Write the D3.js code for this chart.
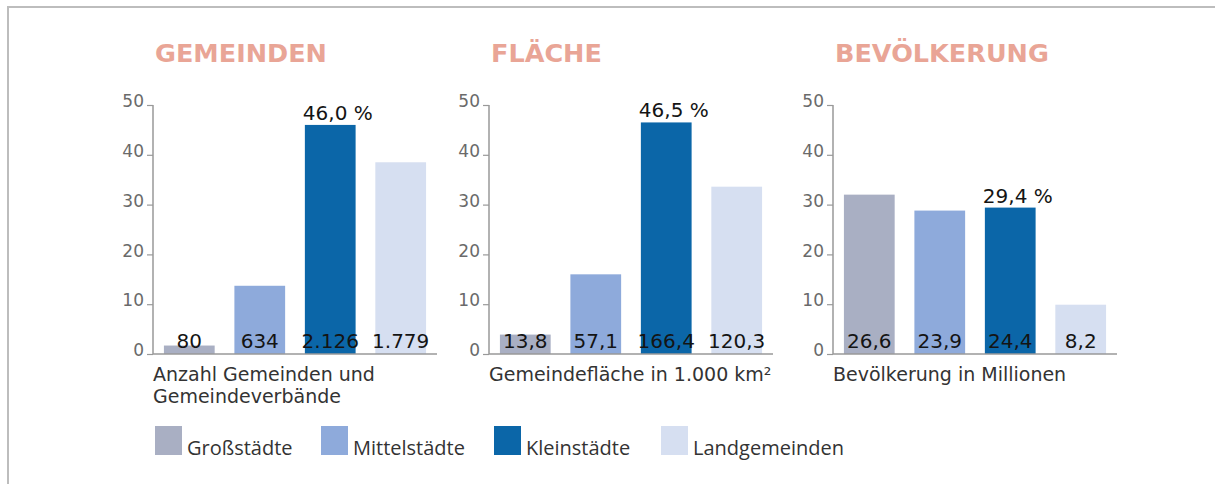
<!DOCTYPE html>
<html>
<head>
<meta charset="utf-8">
<script src="https://cdn.jsdelivr.net/npm/d3@7"></script>
<style>
  body { margin: 0; background: #fff; }
  svg { display: block; }
</style>
</head>
<body>
<div id="chart"></div>
<script>
var w = 1215;
var h = 484;

// categories + colours
var categories = ["Großstädte", "Mittelstädte", "Kleinstädte", "Landgemeinden"];
var colors = ["#a9afc3", "#8eaadb", "#0b66a8", "#d6dff1"];

// panel texts
var titles = ["GEMEINDEN", "FLÄCHE", "BEVÖLKERUNG"];
var captions = [["Anzahl Gemeinden und", "Gemeindeverbände"], ["Gemeindefläche in 1.000 km²"], ["Bevölkerung in Millionen"]];

// bar heights = share in percent
var shareGemeinden = [1.7, 13.7, 46.0, 38.5];
var shareFlaeche = [3.9, 16.0, 46.5, 33.6];
var shareBevoelkerung = [32.0, 28.8, 29.4, 9.9];

// labels written in the bars
var labelGemeinden = ["80", "634", "2.126", "1.779"];
var labelFlaeche = ["13,8", "57,1", "166,4", "120,3"];
var labelBevoelkerung = ["26,6", "23,9", "24,4", "8,2"];

// percent label above the highlighted bar
var highlight = ["46,0 %", "46,5 %", "29,4 %"];
var highlightIndex = 2;

var yTicks = [0, 10, 20, 30, 40, 50];

var panels = [
  { share: shareGemeinden, labels: labelGemeinden },
  { share: shareFlaeche, labels: labelFlaeche },
  { share: shareBevoelkerung, labels: labelBevoelkerung }
];

var axisX = [153, 489, 833];
var axisW = 284;

var svg = d3.select("#chart").append("svg")
  .attr("width", w)
  .attr("height", h);

// frame
svg.append("path")
  .attr("d", "M8," + h + " L8,7 L" + w + ",7")
  .attr("fill", "none")
  .attr("stroke", "#bdbdbd")
  .attr("stroke-width", 2);

var yScale = d3.scaleLinear().domain([0, 50]).range([354, 105]);

var numFont = "'DejaVu Sans', sans-serif";

panels.forEach(function(p, k) {
  var x0 = axisX[k];
  var xScale = d3.scaleBand()
    .domain(categories)
    .range([x0, x0 + axisW])
    .paddingInner(0.28)
    .paddingOuter(0.155);

  var g = svg.append("g");

  // title
  g.append("text")
    .text(titles[k])
    .attr("x", x0 + 2)
    .attr("y", 62)
    .attr("font-family", numFont)
    .attr("font-weight", "bold")
    .attr("font-size", "25.5px")
    .attr("fill", "#e9a596");

  // bars
  g.selectAll("rect.bar")
    .data(p.share)
    .enter()
    .append("rect")
    .attr("class", "bar")
    .attr("x", function(d, i) { return xScale(categories[i]); })
    .attr("y", function(d) { return yScale(d); })
    .attr("width", xScale.bandwidth())
    .attr("height", function(d) { return yScale(0) - yScale(d); })
    .style("fill", function(d, i) { return colors[i]; });

  // y axis
  var yAxis = d3.axisLeft(yScale)
    .tickValues(yTicks)
    .tickSize(6)
    .tickPadding(3);
  var ax = g.append("g")
    .attr("transform", "translate(" + x0 + ",0)")
    .call(yAxis);
  ax.select(".domain").remove();
  ax.selectAll(".tick line").attr("stroke", "#999").attr("stroke-width", 1.2);
  ax.selectAll(".tick text")
    .attr("font-family", numFont)
    .attr("font-size", "17px")
    .attr("fill", "#6a6a6a")
    .attr("dy", "0.1em");

  // axis lines (vertical + baseline)
  g.append("path")
    .attr("d", "M" + x0 + "," + yScale(50) + " L" + x0 + "," + yScale(0) + " L" + (x0 + axisW) + "," + yScale(0))
    .attr("fill", "none")
    .attr("stroke", "#999")
    .attr("stroke-width", 1.5);

  // numbers in bars
  g.selectAll("text.val")
    .data(p.labels)
    .enter()
    .append("text")
    .attr("class", "val")
    .text(function(d) { return d; })
    .attr("x", function(d, i) { return xScale(categories[i]) + xScale.bandwidth() / 2; })
    .attr("y", yScale(0) - 6)
    .attr("text-anchor", "middle")
    .attr("font-family", numFont)
    .attr("font-size", "20px")
    .attr("fill", "#141414");

  // percent label
  g.append("text")
    .text(highlight[k])
    .attr("x", xScale(categories[highlightIndex]) - 2)
    .attr("y", yScale(p.share[highlightIndex]) - 5)
    .attr("font-family", numFont)
    .attr("font-size", "20px")
    .attr("fill", "#141414");

  // caption
  g.selectAll("text.cap")
    .data(captions[k])
    .enter()
    .append("text")
    .attr("class", "cap")
    .text(function(d) { return d; })
    .attr("x", x0)
    .attr("y", function(d, i) { return 381 + i * 22; })
    .attr("font-family", numFont)
    .attr("font-size", "19px")
    .attr("fill", "#333");
});

// legend
var legX = [155, 321, 494, 661];
var leg = svg.selectAll("g.leg")
  .data(categories)
  .enter()
  .append("g")
  .attr("class", "leg")
  .attr("transform", function(d, i) { return "translate(" + legX[i] + ",426)"; });
leg.append("rect")
  .attr("width", 27)
  .attr("height", 29)
  .style("fill", function(d, i) { return colors[i]; });
leg.append("text")
  .text(function(d) { return d; })
  .attr("x", 32)
  .attr("y", 29)
  .attr("font-family", "'Open Sans', sans-serif")
  .attr("font-size", "20px")
  .attr("fill", "#333");
</script>
</body>
</html>
